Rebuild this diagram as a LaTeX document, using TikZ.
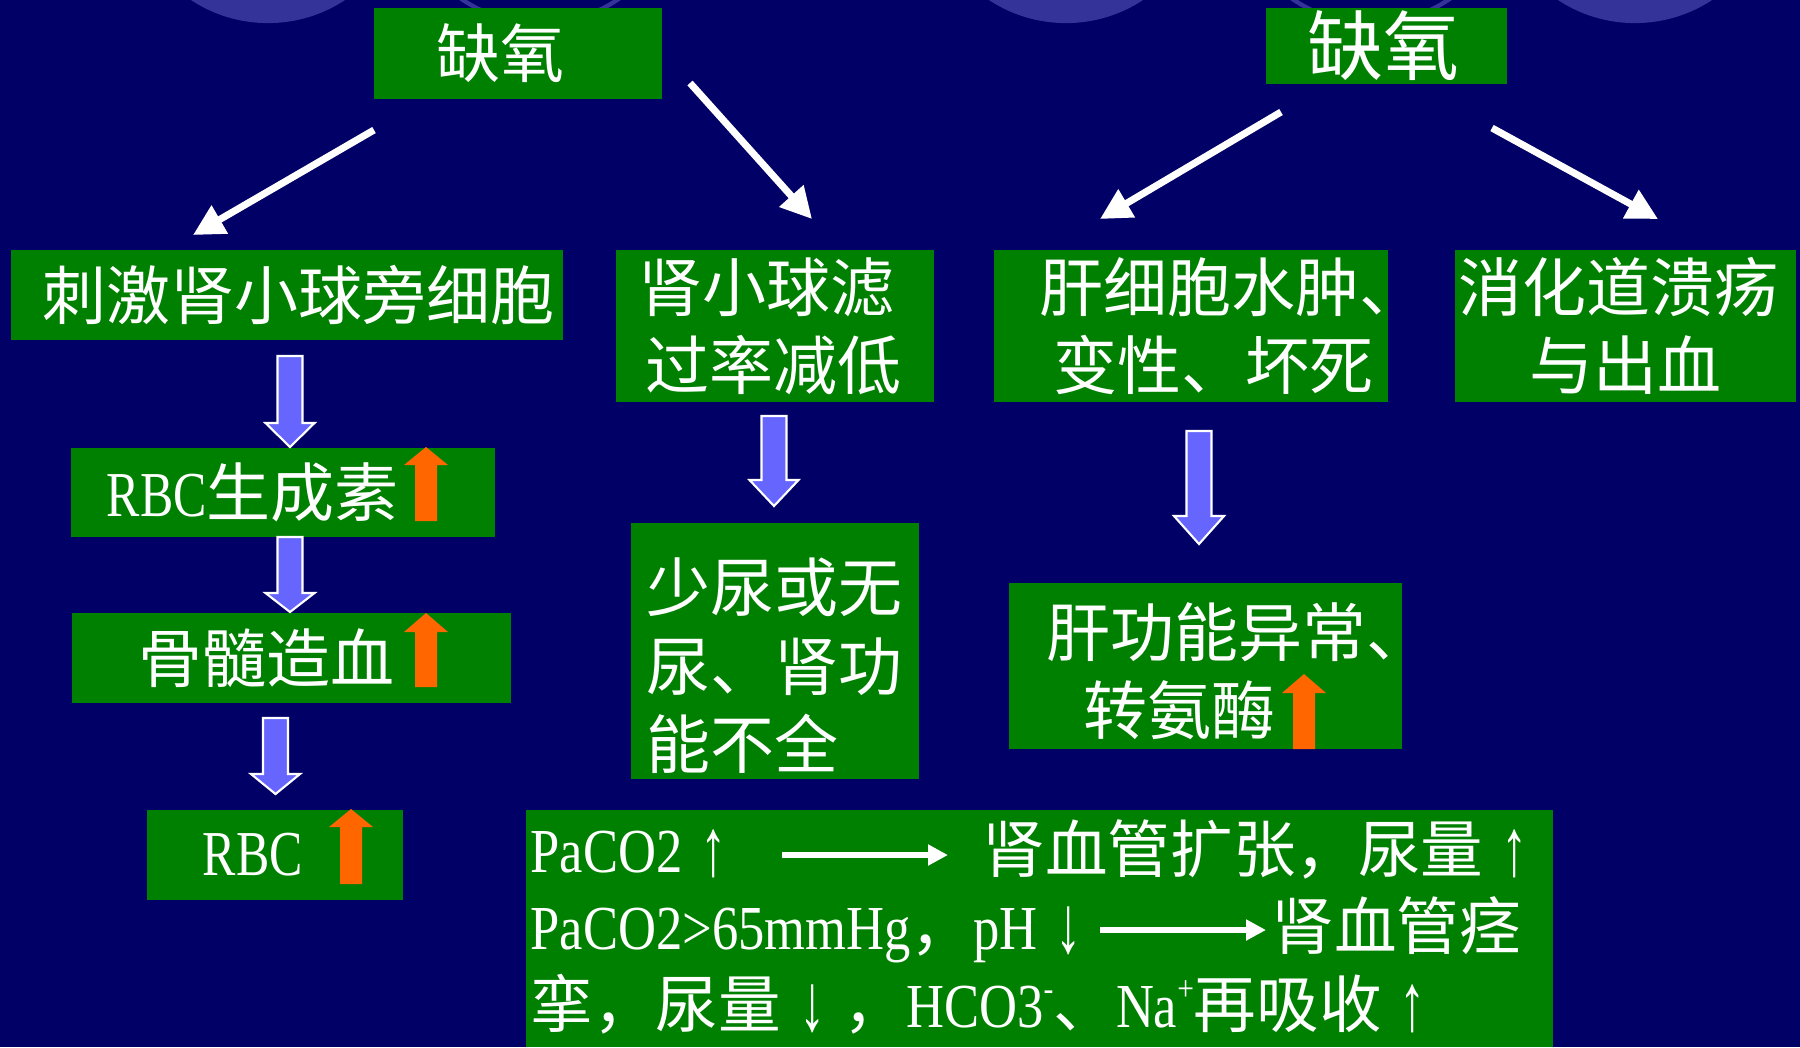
\documentclass[tikz,border=0pt]{standalone}
\usepackage{fontspec}
\usepackage{graphicx}
\setmainfont{Noto Sans CJK SC}
\newfontfamily\lat[FakeStretch=0.78]{Liberation Serif}
\newfontfamily\latb[FakeStretch=0.84]{Liberation Serif}
\usetikzlibrary{arrows.meta}
\definecolor{bgnavy}{HTML}{000066}
\definecolor{boxgreen}{HTML}{008000}
\definecolor{arrowblue}{HTML}{6666FF}
\definecolor{arroworange}{HTML}{FF6600}
\definecolor{circblue}{HTML}{333399}
\newcommand{\BlkArrow}[7]{%
  \path[#1] ({#2-#6},#3) -- ({#2+#6},#3) -- ({#2+#6},#4) -- ({#2+#7},#4) -- (#2,#5) -- ({#2-#7},#4) -- ({#2-#6},#4) -- cycle;}
\newcommand{\supsm}[1]{\raisebox{0.42em}{\fontsize{10pt}{10pt}\selectfont #1}}
\newcommand{\fwarr}[1]{\makebox[1em]{\latb\raisebox{-0.05em}{\scalebox{1}[1.3]{#1}}}}
\tikzset{
  box/.style={fill=boxgreen, text=white, inner xsep=0pt, inner ysep=0pt, align=left,
    font=\fontsize{18.2pt}{22.2pt}\selectfont},
  warrow/.style={draw=white, line width=2pt, -{Triangle[length=0.31cm,width=0.31cm]}},
  tarrow/.style={draw=white, line width=1.8pt, -{Triangle[length=0.2cm,width=0.2cm]}},
  seg/.style={anchor=base west, inner sep=0pt, text=white, font=\fontsize{17.8pt}{22pt}\selectfont},
  blueblk/.style={fill=arrowblue, draw=white, line width=0.6pt},
  orangeblk/.style={fill=arroworange},
  deco/.style={fill=circblue},
  decoring/.style={draw=circblue, line width=1.2pt},
}
\begin{document}
\begin{tikzpicture}[x=0.01cm,y=-0.01cm]
\useasboundingbox (0,0) rectangle (1800,1047);
\fill[bgnavy] (0,0) rectangle (1800,1047);
% decorative circles of the template
\begin{scope}
  \clip (0,0) rectangle (1800,1047);
  \fill[deco] (268,-117) circle[radius=1.4cm];
  \fill[deco] (1066,-117) circle[radius=1.4cm];
  \fill[deco] (1635,-117) circle[radius=1.4cm];
  \draw[decoring] (540,-117) circle[radius=1.4cm];
  \draw[decoring] (1371,-117) circle[radius=1.4cm];
\end{scope}

% boxes
\node[box, text width=2.88cm, minimum height=0.91cm] (qL) at (518,53.5) {\hspace*{0.63cm}缺氧};
\node[box, text width=2.41cm, minimum height=0.76cm, font=\fontsize{21.6pt}{24pt}\selectfont] (qR) at (1386.5,46) {\hspace*{0.42cm}缺氧};
\node[box, text width=5.52cm, minimum height=0.90cm] (cj) at (287,295) {\hspace*{0.32cm}刺激肾小球旁细胞};
\node[box, text width=3.18cm, minimum height=1.52cm] (sx) at (775,326) {\hspace*{0.23cm}肾小球滤\\\hspace*{0.30cm}过率减低};
\node[box, text width=3.94cm, minimum height=1.52cm] (gx) at (1191,326) {\hspace*{0.46cm}肝细胞水肿、\\\hspace*{0.60cm}变性、坏死};
\node[box, text width=3.40cm, minimum height=1.52cm] (xh) at (1625.5,326) {\hspace*{0.03cm}消化道溃疡\\\hspace*{0.74cm}与出血};
\node[box, text width=4.24cm, minimum height=0.89cm] (rbcs) at (283,492.5) {\hspace*{0.36cm}{\lat RBC}生成素};
\node[box, text width=4.39cm, minimum height=0.90cm] (gs) at (291.5,658) {\hspace*{0.67cm}骨髓造血};
\node[box, text width=2.56cm, minimum height=0.90cm] (rbc) at (275,855) {\hspace*{0.56cm}{\lat RBC}};
\node[box, text width=2.88cm, minimum height=2.56cm] (sn) at (775,651) {\rule{0pt}{0.83cm}\hspace*{0.16cm}少尿或无\\\hspace*{0.16cm}尿、肾功\\\hspace*{0.16cm}能不全};
\node[box, text width=3.93cm, minimum height=1.66cm] (gg) at (1205.5,666) {\rule{0pt}{0.65cm}\hspace*{0.38cm}肝功能异常、\\\hspace*{0.75cm}转氨酶};
\node[box, text width=10.27cm, minimum height=2.37cm] (bt) at (1039.5,928.5) {};

% white diagonal arrows
\coordinate (aLs) at (374,130);  \coordinate (aLe) at (193,235);
\coordinate (bLs) at (690,83);   \coordinate (bLe) at (812,219);
\coordinate (aRs) at (1281,112); \coordinate (aRe) at (1100,219);
\coordinate (bRs) at (1492,128); \coordinate (bRe) at (1658,219);
\draw[warrow] (aLs) -- (aLe);
\draw[warrow] (bLs) -- (bLe);
\draw[warrow] (aRs) -- (aRe);
\draw[warrow] (bRs) -- (bRe);

% blue block arrows
\BlkArrow{blueblk}{290}{356}{423}{447}{12.5}{24.5}
\BlkArrow{blueblk}{290}{537}{593}{612}{12.5}{24.5}
\BlkArrow{blueblk}{275.5}{718}{774}{794}{12.5}{24.5}
\BlkArrow{blueblk}{774}{416}{480}{506}{12.5}{24.5}
\BlkArrow{blueblk}{1199}{431}{516}{544}{12.5}{25}

% orange up arrows
\BlkArrow{orangeblk}{426}{521}{465}{447}{11}{22}
\BlkArrow{orangeblk}{426}{687}{632}{613}{11}{22}
\BlkArrow{orangeblk}{351}{884}{827}{809}{11}{22}
\BlkArrow{orangeblk}{1304}{749}{693}{674}{11}{22}

% bottom text
\node[seg] (l1a) at (530,872) {{\latb PaCO2}\fwarr{↑}};
\coordinate (t1s) at (782,855); \coordinate (t1e) at (948,855);
\draw[tarrow] (t1s) -- (t1e);
\node[seg] (l1b) at (982,872) {肾血管扩张，尿量\fwarr{↑}};
\node[seg] (l2a) at (530,949) {{\latb PaCO2>65mmHg}，{\latb pH}\fwarr{↓}};
\coordinate (t2s) at (1100,930); \coordinate (t2e) at (1266,930);
\draw[tarrow] (t2s) -- (t2e);
\node[seg] (l2b) at (1271,949) {肾血管痉};
\node[seg] (l3) at (530,1027) {挛，尿量\fwarr{↓}，{\latb HCO3\supsm{-}}、{\latb Na\supsm{+}}再吸收\fwarr{↑}};
\end{tikzpicture}
\end{document}
